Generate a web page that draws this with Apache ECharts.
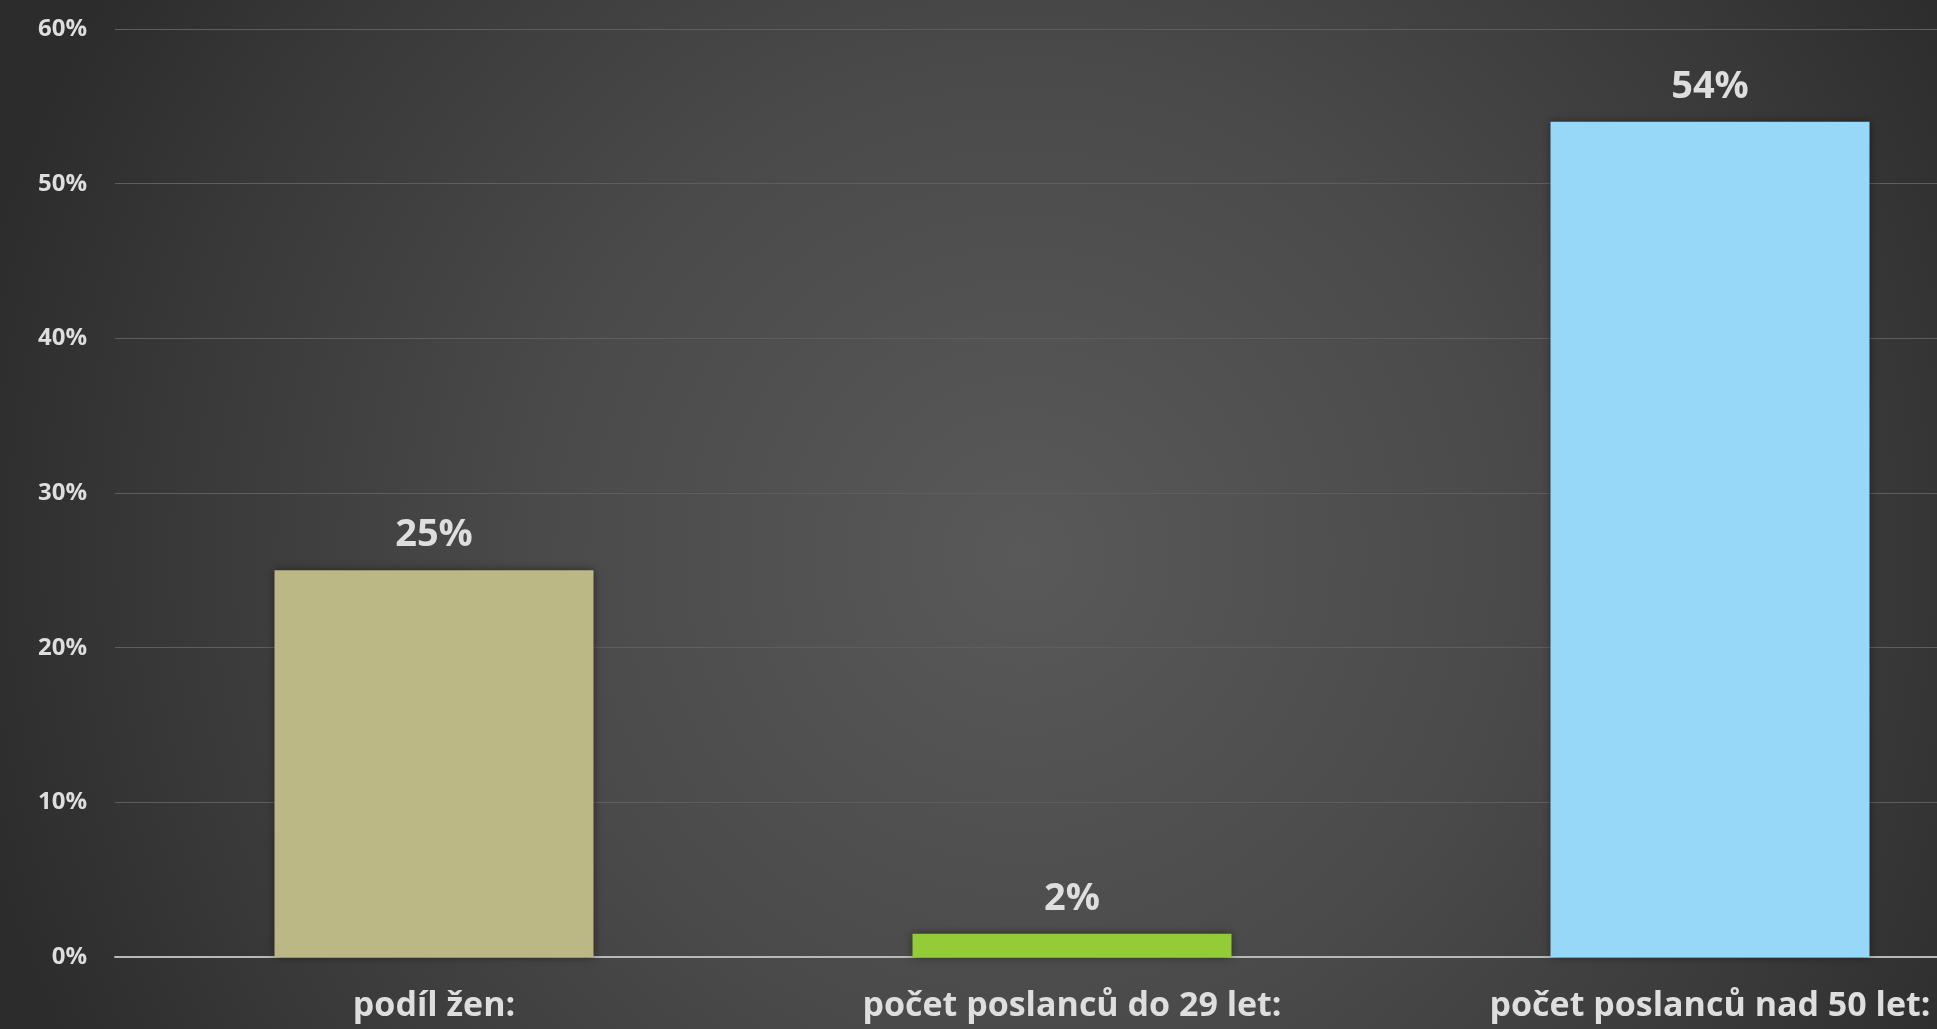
<!DOCTYPE html>
<html>
<head>
<meta charset="utf-8">
<script src="https://cdn.jsdelivr.net/npm/echarts@6/dist/echarts.min.js"></script>
<style>
html,body{margin:0;padding:0;width:100%;height:100%;overflow:hidden;background:#3a3a3a;}
#chart{width:2029px;height:1029px;}
</style>
</head>
<body>
<div id="chart"></div>
<script>
const categories = ['podíl žen:', 'počet poslanců do 29 let:', 'počet poslanců nad 50 let:'];
const values = [25, 1.5, 54];
const barColors = ['#bcb885', '#93cc36', '#97d7f7'];
const yTicks = [0, 10, 20, 30, 40, 50, 60];

const chart = echarts.init(document.getElementById('chart'));
chart.setOption({
  backgroundColor: {
    type: 'radial', x: 0.505, y: 0.54, r: 1.05,
    colorStops: [
      {offset: 0, color: '#595959'},
      {offset: 0.45, color: '#4a4a4a'},
      {offset: 0.8, color: '#383838'},
      {offset: 1, color: '#2c2c2c'}
    ]
  },
  animation: false,
  grid: {left: 115, top: 29, right: 0, bottom: 72, containLabel: false},
  xAxis: {
    type: 'category',
    data: categories,
    axisTick: {show: false},
    axisLine: {show: true, lineStyle: {color: '#b8b8b8', width: 2}},
    axisLabel: {
      color: '#dedede', fontFamily: 'Open Sans', fontWeight: 'bold',
      fontSize: 34, margin: 29, lineHeight: 40, interval: 0
    }
  },
  yAxis: {
    type: 'value',
    min: yTicks[0], max: yTicks[yTicks.length - 1], interval: 10,
    axisLine: {show: false},
    axisTick: {show: false},
    splitLine: {lineStyle: {color: '#5e5e5e', width: 1}},
    axisLabel: {
      color: '#dedede', fontFamily: 'Open Sans', fontWeight: 'bold',
      fontSize: 24, margin: 28, formatter: v => v + '%'
    }
  },
  series: [{
    type: 'bar',
    barWidth: '50%',
    data: values.map((v, i) => ({
      value: v,
      itemStyle: {color: barColors[i]}
    })),
    itemStyle: {shadowBlur: 8, shadowColor: 'rgba(0,0,0,0.45)'},
    label: {
      show: true, position: 'top', distance: 16,
      color: '#dedede', fontFamily: 'Open Sans', fontWeight: 'bold', fontSize: 38,
      formatter: p => Math.round(p.value) + '%'
    }
  }]
});
</script>
</body>
</html>
